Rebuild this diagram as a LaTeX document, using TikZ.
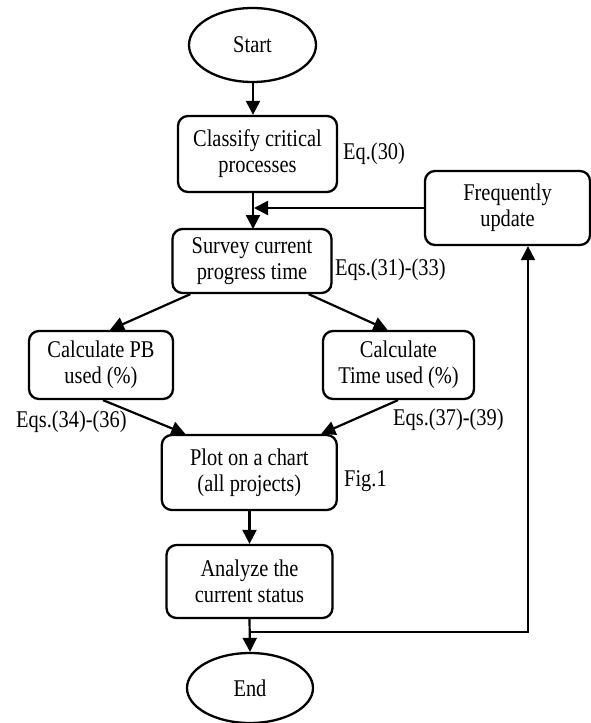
\documentclass[tikz,border=0pt]{standalone}
\usepackage{fontspec}
\setmainfont[FakeStretch=0.85]{Liberation Serif}
\usetikzlibrary{shapes.geometric,arrows.meta,calc}
\begin{document}
\begin{tikzpicture}[x=1pt,y=-1pt,
  every node/.style={font=\fontsize{24}{26}\selectfont},
  procbox/.style={draw, line width=2.3pt, rounded corners=10pt, align=center, inner sep=0pt},
  term/.style={draw, ellipse, line width=2.3pt, inner sep=0pt},
  note/.style={anchor=west, inner sep=0pt},
  flow/.style={line width=2.2pt, -{Triangle[length=14pt,width=14pt]}},
  plain/.style={line width=2.2pt}]
\useasboundingbox (0,0) rectangle (591,723);
\node[term, minimum width=127pt, minimum height=74pt] (start) at (252.5,45) {Start};
\node[procbox, minimum width=159pt, minimum height=76pt] (classify) at (257.5,154) {Classify critical\\processes};
\node[procbox, minimum width=159pt, minimum height=64pt] (survey) at (252,261) {Survey current\\progress time};
\node[procbox, minimum width=144pt, minimum height=68pt] (calcpb) at (101,365) {Calculate PB\\used (\%)};
\node[procbox, minimum width=151pt, minimum height=68pt] (calctime) at (398.5,365) {Calculate\\Time used (\%)};
\node[procbox, minimum width=175pt, minimum height=75pt] (plot) at (249.3,472.5) {Plot on a chart\\(all projects)};
\node[procbox, minimum width=166pt, minimum height=73pt] (analyze) at (249.5,581.5) {Analyze the\\current status};
\node[procbox, minimum width=165pt, minimum height=74pt] (freq) at (507.5,208) {Frequently\\update};
\node[term, minimum width=126pt, minimum height=70pt] (end) at (250,688) {End};

\node[note] (eq30) at (343,154) {Eq.(30)};
\node[note] (eq31) at (335,270) {Eqs.(31)-(33)};
\node[note] (eq34) at (16,422) {Eqs.(34)-(36)};
\node[note] (eq37) at (393,420) {Eqs.(37)-(39)};
\node[note] (fig1) at (344,481) {Fig.1};

\coordinate (c1) at (253,192);
\coordinate (c2) at (253,229);
\coordinate (j1) at (254,208);
\coordinate (j2) at ([yshift=-13pt]analyze.south);
\coordinate (up) at ([xshift=20.5pt]freq.south);

\draw[flow] (start.south -| c1) -- (c1 |- classify.north);
\draw[flow] (c1) -- (c2);
\draw[flow] (freq.west) -- (j1);
\draw[flow] ([xshift=19pt]survey.south west) -- ([xshift=9pt]calcpb.north);
\draw[flow] ([xshift=-24pt]survey.south east) -- ([xshift=-11pt]calctime.north);
\draw[flow] ([xshift=2pt]calcpb.south) -- ([xshift=-64pt]plot.north);
\draw[flow] ([xshift=-0.5pt]calctime.south) -- ([xshift=72pt]plot.north);
\draw[flow] (plot.south -| analyze.north) -- (analyze.north);
\draw[flow] (analyze.south) -- (end.north);
\draw[flow] (j2) -| (up);
\end{tikzpicture}
\end{document}
